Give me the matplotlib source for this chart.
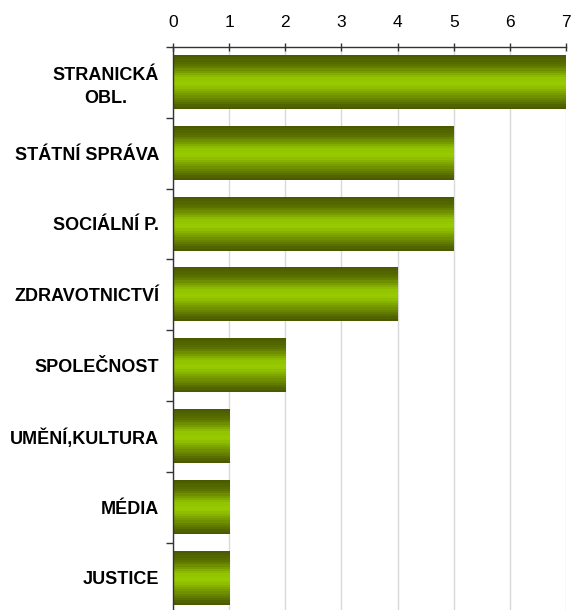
import numpy as np
import matplotlib
matplotlib.use("Agg")
from matplotlib import pyplot as plt
from matplotlib.colors import LinearSegmentedColormap

# Data
categories = ["STRANICKÁ\nOBL.", "STÁTNÍ SPRÁVA", "SOCIÁLNÍ P.", "ZDRAVOTNICTVÍ",
              "SPOLEČNOST", "UMĚNÍ,KULTURA", "MÉDIA", "JUSTICE"]
values = [7, 5, 5, 4, 2, 1, 1, 1]
x_ticks = [0, 1, 2, 3, 4, 5, 6, 7]

plt.rcParams['font.family'] = ['Liberation Sans', 'DejaVu Sans']

fig = plt.figure(figsize=(5.72, 6.10), dpi=100)
ax = fig.add_axes([0.3025, -0.0055, 0.6870, 0.9285])

# gradient dark - light - dark across the bar height
cmap = LinearSegmentedColormap.from_list(
    "olive", [(0.0, "#4a5a00"), (0.18, "#5c7400"), (0.42, "#93c400"),
              (0.55, "#99cc00"), (0.8, "#6e8c00"), (1.0, "#4a5a00")])
grad = np.linspace(0, 1, 24).reshape(-1, 1)

bar_h = 0.755
n = len(categories)
for i, v in enumerate(values):
    ax.imshow(grad, cmap=cmap, aspect="auto", interpolation="nearest",
              extent=[0, v, i + bar_h / 2, i - bar_h / 2], zorder=2)

ax.set_xlim(0, 7)
ax.set_ylim(n - 0.5, -0.5)

ax.xaxis.tick_top()
ax.set_xticks(x_ticks)
ax.set_xticklabels([str(t) for t in x_ticks], fontsize=12.5)
ax.tick_params(axis="x", direction="inout", length=6, width=1, pad=9, color="#333333")
ax.grid(axis="x", color="#d9d9d9", linewidth=1, zorder=0)
ax.set_axisbelow(True)

ax.set_yticks(range(n))
ax.set_yticklabels(categories, fontsize=13, fontweight="bold",
                   multialignment="center", linespacing=1.45)
ax.tick_params(axis="y", which="major", length=0, pad=10)
ax.set_yticks(np.arange(-0.5, n + 0.5, 1), minor=True)
ax.tick_params(axis="y", which="minor", length=5, width=1, color="#333333", direction="out")

for s in ["right", "bottom"]:
    ax.spines[s].set_visible(False)
for s in ["top", "left"]:
    ax.spines[s].set_color("#333333")
    ax.spines[s].set_linewidth(1)

fig.savefig("out.png", dpi=100)
